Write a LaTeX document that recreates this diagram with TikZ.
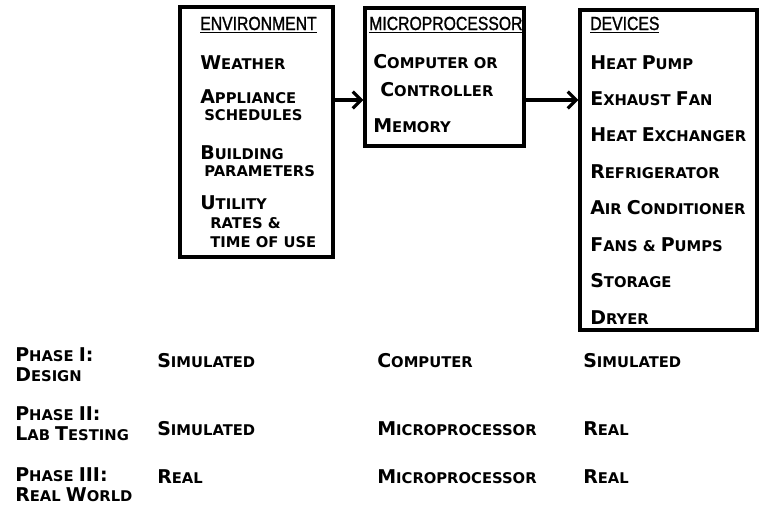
\documentclass[tikz,border=0pt]{standalone}
\usepackage{fontspec}
\setmainfont{DejaVu Sans}
\newfontfamily\headfont{Liberation Sans}[FakeStretch=0.83, FakeBold=1.2]
\usetikzlibrary{arrows.meta, positioning}
\newcommand\sm[1]{{\fontsize{10.5}{12}\selectfont #1}}

\begin{document}
\begin{tikzpicture}[x=0.025cm, y=-0.025cm,
      box/.style={draw, line width=2.3pt, inner sep=0pt},
      head/.style={anchor=base west, inner sep=0pt, font=\headfont\fontsize{13.5}{15}\selectfont},
      item/.style={anchor=west, inner sep=0pt, text height=10pt, text depth=0pt,
      font=\bfseries\fontsize{13.5}{15}\selectfont},
      arrow/.style={-{Straight Barb[length=6pt, width=12pt]}, line width=2.2pt}
    ]
    \useasboundingbox (0,0) rectangle (764,522);

    % the three boxes
    \node[box, minimum width=3.825cm, minimum height=6.25cm] (env) at (256.5,132) {};
    \node[box, minimum width=3.975cm, minimum height=3.45cm] (mpu) at (444.5,77) {};
    \node[box, minimum width=4.425cm, minimum height=8cm] (dev) at (668.5,170) {};
    \coordinate (lvl) at (0,100);

    \draw[arrow] (env.east |- lvl) -- (mpu.west |- lvl);
    \draw[arrow] (mpu.east |- lvl) -- (dev.west |- lvl);

    % environment
    \node[head] (envh) at (200,30) {\underline{ENVIRONMENT}};
    \node[item] (wea) at (200,62) {W\sm{EATHER}};
    \node[item] (app) at (200,96) {A\sm{PPLIANCE}};
    \node[item] (sch) at (204,113) {\sm{SCHEDULES}};
    \node[item] (bld) at (200,152) {B\sm{UILDING}};
    \node[item] (par) at (204,169) {\sm{PARAMETERS}};
    \node[item] (utl) at (200,202) {U\sm{TILITY}};
    \node[item] (rat) at (210,221) {\sm{RATES \&}};
    \node[item] (tim) at (210,240) {\sm{TIME OF USE}};

    % microprocessor
    \node[head] (mpuh) at (369,30) {\underline{MICROPROCESSOR}};
    \node[item] (cmp) at (373,61) {C\sm{OMPUTER OR}};
    \node[item] (ctl) at (380,89) {C\sm{ONTROLLER}};
    \node[item] (mem) at (373,125) {M\sm{EMORY}};

    % devices
    \node[head] (devh) at (590,30) {\underline{DEVICES}};
    \node[item] (hp) at (590,62) {H\sm{EAT }P\sm{UMP}};
    \node[item, below=0.546cm of hp.south west, anchor=north west] (ef) {E\sm{XHAUST }F\sm{AN}};
    \node[item, below=0.546cm of ef.south west, anchor=north west] (hx) {H\sm{EAT }E\sm{XCHANGER}};
    \node[item, below=0.546cm of hx.south west, anchor=north west] (rf) {R\sm{EFRIGERATOR}};
    \node[item, below=0.546cm of rf.south west, anchor=north west] (ac) {A\sm{IR }C\sm{ONDITIONER}};
    \node[item, below=0.546cm of ac.south west, anchor=north west] (fp) {F\sm{ANS \& }P\sm{UMPS}};
    \node[item, below=0.546cm of fp.south west, anchor=north west] (st) {S\sm{TORAGE}};
    \node[item, below=0.546cm of st.south west, anchor=north west] (dr) {D\sm{RYER}};

    % phases
    \node[item] (p1a) at (15,354) {P\sm{HASE }I:};
    \node[item] (p1b) at (15,374) {D\sm{ESIGN}};
    \node[item] (p1e) at (157,360) {S\sm{IMULATED}};
    \node[item] (p1m) at (377,360) {C\sm{OMPUTER}};
    \node[item] (p1d) at (583,360) {S\sm{IMULATED}};

    \node[item] (p2a) at (15,413) {P\sm{HASE }II:};
    \node[item] (p2b) at (15,433) {L\sm{AB }T\sm{ESTING}};
    \node[item] (p2e) at (157,428) {S\sm{IMULATED}};
    \node[item] (p2m) at (377,428) {M\sm{ICROPROCESSOR}};
    \node[item] (p2d) at (583,428) {R\sm{EAL}};

    \node[item] (p3a) at (15,474) {P\sm{HASE }III:};
    \node[item] (p3b) at (15,494) {R\sm{EAL }W\sm{ORLD}};
    \node[item] (p3e) at (157,476) {R\sm{EAL}};
    \node[item] (p3m) at (377,476) {M\sm{ICROPROCESSOR}};
    \node[item] (p3d) at (583,476) {R\sm{EAL}};
  \end{tikzpicture}
\end{document}
